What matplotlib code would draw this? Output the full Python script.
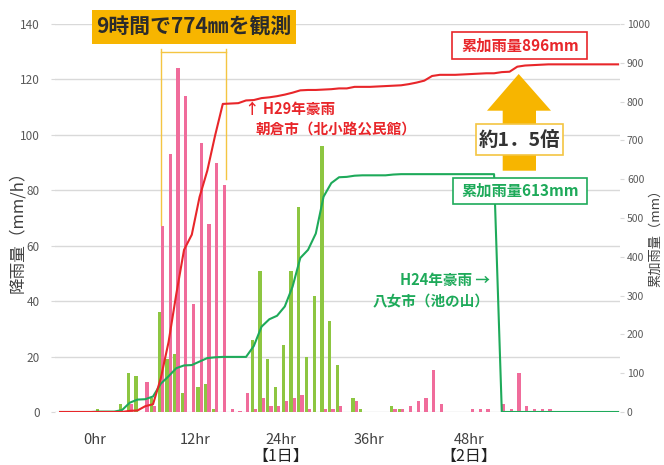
import numpy as np
import matplotlib
matplotlib.use("Agg")
import matplotlib.pyplot as plt
from matplotlib.patches import Rectangle, Polygon
from matplotlib.lines import Line2D

plt.rcParams['font.family'] = ['Noto Sans CJK JP', 'DejaVu Sans']

# ---------------- data (hourly slots, index relative to the heavy-rain onset) ----------------
slots = list(range(-13, 60))

# H29 Asakura (pink bars, mm/h)
rain_h29 = [0, 0, 0, 0, 0, 0, 0, 0, 0,
            3, 0, 11, 2,
            67, 93, 124, 114, 39, 97, 68, 90, 82,
            1, 0.5, 7, 1, 5, 2, 2, 4, 5, 6, 1,
            0, 1, 1, 2, 0, 4, 0, 0, 0, 0,
            1, 1, 2, 4, 5, 15, 3, 0, 0, 0,
            1, 1, 1, 0, 3, 1, 14, 2, 1, 1,
            1, 0, 0, 0, 0, 0, 0, 0, 0, 0]

# H24 Yame (green bars, mm/h)
rain_h24 = [0, 0, 0, 0, 0, 1, 0, 0, 3,
            14, 13, 0, 5,
            36, 19, 21, 7, 0, 9, 10, 1, 0,
            0, 0, 0, 26, 51, 19, 9, 24, 51, 74, 20,
            42, 96, 33, 17, 0, 5, 1, 0, 0, 0,
            2, 1, 0, 0, 0, 0, 0, 0, 0, 0,
            0, 0, 0, 0, 0, 0, 0, 0, 0, 0,
            0, 0, 0, 0, 0, 0, 0, 0, 0, 0]

# cumulative rainfall (mm)
cum_h29 = [0, 0, 0, 0, 0, 0, 0, 0, 0,
           3, 4, 15, 20,
           87, 180, 304, 418, 457, 554, 622, 712, 794,
           795, 796, 803, 804, 809, 811, 814, 818, 823, 829, 830,
           830, 831, 832, 834, 834, 838, 838, 838, 839, 840,
           841, 842, 845, 849, 854, 866, 869, 869, 869, 870,
           871, 872, 873, 873, 876, 877, 890, 893, 894, 895,
           896, 896, 896, 896, 896, 896, 896, 896, 896, 896]

cum_h24 = [0, 0, 0, 0, 0, 1, 1, 1, 5,
           24, 32, 33, 40,
           73, 92, 113, 120, 121, 130, 139, 141, 142,
           142, 142, 142, 170, 220, 239, 248, 272, 323, 397, 418,
           460, 555, 590, 605, 606, 609, 610, 610, 610, 610,
           612, 613, 613, 613, 613, 613, 613, 613, 613, 613,
           613, 613, 613, 613, 0, 0, 0, 0, 0, 0,
           0, 0, 0, 0, 0, 0, 0, 0, 0, 0]

tick_pos = [-8.5, 4.4, 15.5, 26.9, 39.8]
tick_labels = ['0hr', '12hr', '24hr', '36hr', '48hr']
day_labels = ['【1日】', '【2日】']
day_pos = [15.5, 39.8]

# ---------------- styling ----------------
W, H = 664, 465
PINK = '#F06C9B'
LGREEN = '#8DC641'
RED = '#E8262A'
GREEN = '#1EAA5A'
ORANGE = '#F7B500'
YLINE = '#F4C542'
GRID = '#D9D9D9'
TXT = '#595959'

def fx(x):
    return x / W

def fy(y):
    return 1 - y / H

fig = plt.figure(figsize=(W / 100, H / 100), dpi=100)
fig.patch.set_facecolor('white')
ax = fig.add_axes([fx(55), fy(412), (620 - 55) / W, (412 - 24) / H])
ax2 = ax.twinx()

x = np.array(slots, dtype=float)
bw = 0.42
ax.bar(x - bw / 2, rain_h24, width=bw, color=LGREEN, zorder=2, linewidth=0)
ax.bar(x + bw / 2, rain_h29, width=bw, color=PINK, zorder=2, linewidth=0)

ax2.plot(x, cum_h24, color=GREEN, lw=1.5, solid_joinstyle='round', zorder=3)
ax2.plot(x, cum_h29, color=RED, lw=1.5, solid_joinstyle='round', zorder=4)

ax.set_xlim(-13.65, 59.25)
ax2.set_xlim(-13.65, 59.25)
ax.set_ylim(0, 140)
ax2.set_ylim(0, 1000)
ax.set_yticks(np.arange(0, 141, 20))
ax2.set_yticks(np.arange(0, 1001, 100))
ax.yaxis.grid(True, color=GRID, lw=1)
ax.set_axisbelow(True)
for a in (ax, ax2):
    for s in a.spines.values():
        s.set_visible(False)
ax.tick_params(axis='y', length=3, color=GRID, labelsize=8.5, labelcolor=TXT, pad=8)
ax2.tick_params(axis='y', length=3, color=GRID, labelsize=7.5, labelcolor=TXT, pad=2)
ax.set_xticks(tick_pos)
ax.set_xticklabels(tick_labels, fontsize=10.5, color='#404040')
ax.tick_params(axis='x', length=0, pad=15)
for p, lab in zip(day_pos, day_labels):
    ax.text(p, -0.115, lab, transform=ax.get_xaxis_transform(), ha='center', va='center',
            fontsize=11.5, color='#222222')

# axis titles
fig.text(fx(18), fy(228), '降雨量（mm/h）', rotation=90, ha='center', va='center',
         fontsize=12, color='#404040')
fig.text(fx(656), fy(235), '累加雨量（mm）', rotation=90, ha='center', va='center',
         fontsize=9.5, color='#404040')

# 9-hour bracket
bl, br = -0.02, 8.45
ax.add_line(Line2D([bl, bl], [67.5, 131], color=YLINE, lw=1, zorder=5))
ax.add_line(Line2D([br, br], [84, 131], color=YLINE, lw=1, zorder=5))
ax.add_line(Line2D([bl, br], [130, 130], color=YLINE, lw=1, zorder=5))

# title box
fig.patches.append(Rectangle((fx(92), fy(44)), (296 - 92) / W, (44 - 10) / H,
                             transform=fig.transFigure, facecolor=ORANGE, edgecolor='none', zorder=5))
fig.text(fx(194), fy(27), '9時間で774㎜を観測', ha='center', va='center', fontsize=15,
         fontweight='bold', color='#2B2B2B', zorder=6)

# annotations
fig.text(fx(245), fy(109), '↑ H29年豪雨', ha='left', va='center', fontsize=10.5,
         fontweight='bold', color=RED)
fig.text(fx(255), fy(130), '朝倉市（北小路公民館）', ha='left', va='center', fontsize=10.5,
         fontweight='bold', color=RED)
fig.text(fx(490), fy(280), 'H24年豪雨 →', ha='right', va='center', fontsize=10.5,
         fontweight='bold', color=GREEN)
fig.text(fx(490), fy(301), '八女市（池の山）', ha='right', va='center', fontsize=10.5,
         fontweight='bold', color=GREEN)

# total boxes
def box(x0, y0, x1, y1, ec, lw=1.2):
    fig.patches.append(Rectangle((fx(x0), fy(y1)), (x1 - x0) / W, (y1 - y0) / H,
                                 transform=fig.transFigure, facecolor='white', edgecolor=ec,
                                 lw=lw, zorder=7))

box(452, 32, 587, 59, RED)
fig.text(fx(520), fy(46), '累加雨量896mm', ha='center', va='center', fontsize=11,
         fontweight='bold', color=RED, zorder=8)
box(453, 178, 587, 204, GREEN)
fig.text(fx(520), fy(191), '累加雨量613mm', ha='center', va='center', fontsize=11,
         fontweight='bold', color=GREEN, zorder=8)

# big arrow
pts = [(518.7, 74), (551, 110.7), (536, 110.7), (536, 170.7), (502.7, 170.7), (502.7, 110.7), (487, 110.7)]
fig.patches.append(Polygon([(fx(a), fy(b)) for a, b in pts], closed=True, transform=fig.transFigure,
                           facecolor=ORANGE, edgecolor='none', zorder=6))
box(476, 124, 563, 155, YLINE, lw=1.2)
fig.text(fx(519.5), fy(140), '約1．5倍', ha='center', va='center', fontsize=14,
         fontweight='bold', color='#333333', zorder=8)

fig.savefig('out.png', dpi=100)
